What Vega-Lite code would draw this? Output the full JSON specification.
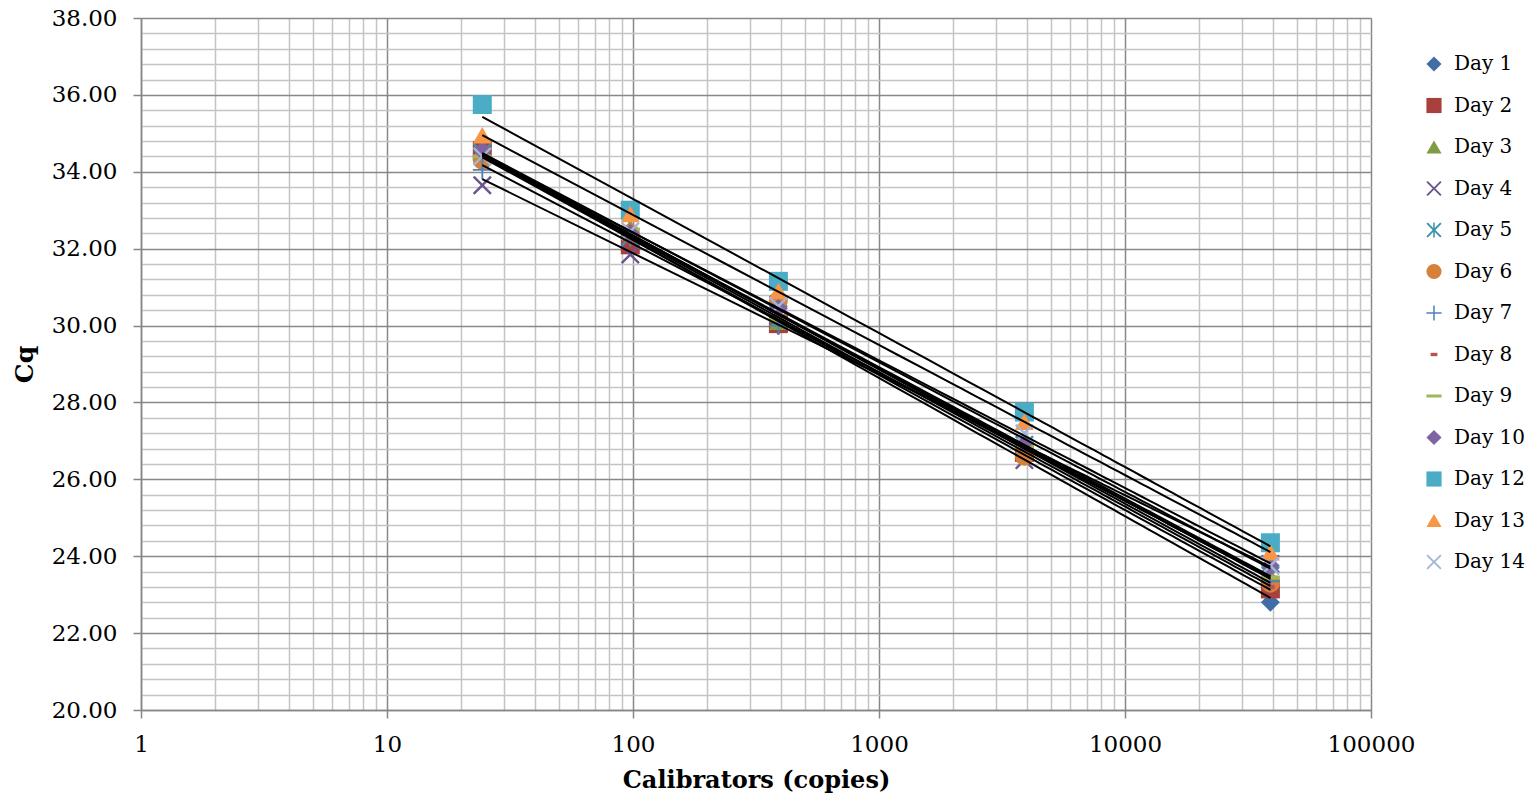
{
  "$schema": "https://vega.github.io/schema/vega-lite/v6.json",
  "width": 1230,
  "height": 692,
  "autosize": {"type": "none"},
  "padding": {"left": 141, "top": 18, "right": 161, "bottom": 86},
  "background": "white",
  "config": {
    "font": "DejaVu Serif",
    "view": {"stroke": null}
  },
  "data": {
    "values": [
      {"day": "Day 1", "copies": 24.4, "cq": 34.45},
      {"day": "Day 1", "copies": 97.5, "cq": 32.25},
      {"day": "Day 1", "copies": 390, "cq": 30.0},
      {"day": "Day 1", "copies": 3900, "cq": 26.75},
      {"day": "Day 1", "copies": 39000, "cq": 22.8},
      {"day": "Day 2", "copies": 24.4, "cq": 34.55},
      {"day": "Day 2", "copies": 97.5, "cq": 32.1},
      {"day": "Day 2", "copies": 390, "cq": 30.05},
      {"day": "Day 2", "copies": 3900, "cq": 26.7},
      {"day": "Day 2", "copies": 39000, "cq": 23.15},
      {"day": "Day 3", "copies": 24.4, "cq": 34.4},
      {"day": "Day 3", "copies": 97.5, "cq": 32.55},
      {"day": "Day 3", "copies": 390, "cq": 30.1},
      {"day": "Day 3", "copies": 3900, "cq": 26.85},
      {"day": "Day 3", "copies": 39000, "cq": 23.45},
      {"day": "Day 4", "copies": 24.4, "cq": 33.65},
      {"day": "Day 4", "copies": 97.5, "cq": 31.85},
      {"day": "Day 4", "copies": 390, "cq": 30.55},
      {"day": "Day 4", "copies": 3900, "cq": 26.5},
      {"day": "Day 4", "copies": 39000, "cq": 23.8},
      {"day": "Day 5", "copies": 24.4, "cq": 34.5},
      {"day": "Day 5", "copies": 97.5, "cq": 32.3},
      {"day": "Day 5", "copies": 390, "cq": 30.3},
      {"day": "Day 5", "copies": 3900, "cq": 26.9},
      {"day": "Day 5", "copies": 39000, "cq": 23.5},
      {"day": "Day 6", "copies": 24.4, "cq": 34.3},
      {"day": "Day 6", "copies": 97.5, "cq": 32.4},
      {"day": "Day 6", "copies": 390, "cq": 30.65},
      {"day": "Day 6", "copies": 3900, "cq": 26.6},
      {"day": "Day 6", "copies": 39000, "cq": 23.3},
      {"day": "Day 7", "copies": 24.4, "cq": 34.05},
      {"day": "Day 7", "copies": 97.5, "cq": 32.35},
      {"day": "Day 7", "copies": 390, "cq": 30.0},
      {"day": "Day 7", "copies": 3900, "cq": 27.0},
      {"day": "Day 7", "copies": 39000, "cq": 23.35},
      {"day": "Day 8", "copies": 24.4, "cq": 34.5},
      {"day": "Day 8", "copies": 97.5, "cq": 32.2},
      {"day": "Day 8", "copies": 390, "cq": 30.2},
      {"day": "Day 8", "copies": 3900, "cq": 26.8},
      {"day": "Day 8", "copies": 39000, "cq": 23.2},
      {"day": "Day 9", "copies": 24.4, "cq": 34.4},
      {"day": "Day 9", "copies": 97.5, "cq": 32.5},
      {"day": "Day 9", "copies": 390, "cq": 30.15},
      {"day": "Day 9", "copies": 3900, "cq": 26.85},
      {"day": "Day 9", "copies": 39000, "cq": 23.45},
      {"day": "Day 10", "copies": 24.4, "cq": 34.55},
      {"day": "Day 10", "copies": 97.5, "cq": 32.4},
      {"day": "Day 10", "copies": 390, "cq": 30.45},
      {"day": "Day 10", "copies": 3900, "cq": 26.95},
      {"day": "Day 10", "copies": 39000, "cq": 23.75},
      {"day": "Day 12", "copies": 24.4, "cq": 35.75},
      {"day": "Day 12", "copies": 97.5, "cq": 33.0},
      {"day": "Day 12", "copies": 390, "cq": 31.15},
      {"day": "Day 12", "copies": 3900, "cq": 27.75},
      {"day": "Day 12", "copies": 39000, "cq": 24.35},
      {"day": "Day 13", "copies": 24.4, "cq": 34.95},
      {"day": "Day 13", "copies": 97.5, "cq": 32.9},
      {"day": "Day 13", "copies": 390, "cq": 30.9},
      {"day": "Day 13", "copies": 3900, "cq": 27.5},
      {"day": "Day 13", "copies": 39000, "cq": 24.1},
      {"day": "Day 14", "copies": 24.4, "cq": 34.4},
      {"day": "Day 14", "copies": 97.5, "cq": 32.45},
      {"day": "Day 14", "copies": 390, "cq": 30.5},
      {"day": "Day 14", "copies": 3900, "cq": 27.2},
      {"day": "Day 14", "copies": 39000, "cq": 23.75}
    ]
  },
  "encoding": {
    "x": {
      "field": "copies",
      "type": "quantitative",
      "scale": {"type": "log", "domain": [1, 100000], "nice": false},
      "axis": {
        "title": "Calibrators (copies)",
        "titleFont": "DejaVu Serif",
        "titleFontSize": 24,
        "titleFontWeight": "bold",
        "titleColor": "black",
        "titlePadding": 12,
        "values": [1,2,3,4,5,6,7,8,9,10,20,30,40,50,60,70,80,90,100,200,300,400,500,600,700,800,900,1000,2000,3000,4000,5000,6000,7000,8000,9000,10000,20000,30000,40000,50000,60000,70000,80000,90000,100000],
        "format": "d",
        "labelExpr": "(datum.value == 1 || datum.value == 10 || datum.value == 100 || datum.value == 1000 || datum.value == 10000 || datum.value == 100000) ? datum.label : ''",
        "labelOverlap": false,
        "labelFlush": false,
        "labelFont": "DejaVu Serif",
        "labelFontSize": 23,
        "labelColor": "black",
        "labelPadding": 15,
        "domainColor": "#868686",
        "domainWidth": 1.5,
        "tickSize": 8,
        "tickWidth": 1.5,
        "tickColor": "#868686",
        "tickOpacity": {"condition": {"test": "datum.value == 1 || datum.value == 10 || datum.value == 100 || datum.value == 1000 || datum.value == 10000 || datum.value == 100000", "value": 1}, "value": 0},
        "grid": true,
        "gridWidth": 1.5,
        "gridColor": {"condition": {"test": "datum.value == 1 || datum.value == 10 || datum.value == 100 || datum.value == 1000 || datum.value == 10000 || datum.value == 100000", "value": "#888888"}, "value": "#c4c4c4"}
      }
    },
    "y": {
      "field": "cq",
      "type": "quantitative",
      "scale": {"domain": [20, 38], "nice": false, "zero": false},
      "axis": {
        "title": "Cq",
        "titleFont": "DejaVu Serif",
        "titleFontSize": 25,
        "titleFontWeight": "bold",
        "titleColor": "black",
        "titlePadding": 14,
        "values": [20,20.4,20.8,21.2,21.6,22,22.4,22.8,23.2,23.6,24,24.4,24.8,25.2,25.6,26,26.4,26.8,27.2,27.6,28,28.4,28.8,29.2,29.6,30,30.4,30.8,31.2,31.6,32,32.4,32.8,33.2,33.6,34,34.4,34.8,35.2,35.6,36,36.4,36.8,37.2,37.6,38],
        "format": ".2f",
        "labelExpr": "datum.value % 2 == 0 ? datum.label : ''",
        "labelOverlap": false,
        "labelFlush": false,
        "labelFont": "DejaVu Serif",
        "labelFontSize": 23,
        "labelColor": "black",
        "labelPadding": 16,
        "domainColor": "#868686",
        "domainWidth": 1.5,
        "tickSize": 8,
        "tickWidth": 1.5,
        "tickColor": "#868686",
        "tickOpacity": {"condition": {"test": "datum.value % 2 == 0", "value": 1}, "value": 0},
        "grid": true,
        "gridWidth": 1.5,
        "gridColor": {"condition": {"test": "datum.value % 2 == 0", "value": "#888888"}, "value": "#c4c4c4"}
      }
    }
  },
  "layer": [
    {
      "mark": {"type": "point", "filled": true, "opacity": 1, "size": 361, "strokeWidth": 0},
      "encoding": {
        "color": {
          "field": "day",
          "type": "nominal",
          "scale": {
            "domain": ["Day 1","Day 2","Day 3","Day 4","Day 5","Day 6","Day 7","Day 8","Day 9","Day 10","Day 12","Day 13","Day 14"],
            "range": ["#3E6DA8","#A8403D","#7E9C45","#6B558F","#3A93AA","#D6813A","#4F81BD","#C0504D","#9BBB59","#8064A2","#4BACC6","#F79646","#A5B6D8"]
          },
          "legend": {
            "title": null,
            "orient": "none",
            "legendX": 1283,
            "legendY": 36,
            "padding": 0,
            "labelFont": "DejaVu Serif",
            "labelFontSize": 20,
            "labelColor": "black",
            "labelOffset": 10,
            "symbolSize": 230,
            "symbolStrokeWidth": 0,
            "rowPadding": 21.5
          }
        },
        "shape": {
          "field": "day",
          "type": "nominal",
          "scale": {
            "domain": ["Day 1","Day 2","Day 3","Day 4","Day 5","Day 6","Day 7","Day 8","Day 9","Day 10","Day 12","Day 13","Day 14"],
            "range": [
              "diamond",
              "square",
              "triangle-up",
              "M0,-0.18L0.82,-1L1,-0.82L0.18,0L1,0.82L0.82,1L0,0.18L-0.82,1L-1,0.82L-0.18,0L-1,-0.82L-0.82,-1Z",
              "M0,-0.18L0.82,-1L1,-0.82L0.18,0L1,0.82L0.82,1L0,0.18L-0.82,1L-1,0.82L-0.18,0L-1,-0.82L-0.82,-1Z M-0.1,-1L0.1,-1L0.1,1L-0.1,1Z",
              "circle",
              "M-0.1,-1L0.1,-1L0.1,-0.1L1,-0.1L1,0.1L0.1,0.1L0.1,1L-0.1,1L-0.1,0.1L-1,0.1L-1,-0.1L-0.1,-0.1Z",
              "M-0.45,-0.22L0.45,-0.22L0.45,0.22L-0.45,0.22Z",
              "M-1,-0.2L1,-0.2L1,0.2L-1,0.2Z",
              "diamond",
              "square",
              "triangle-up",
              "M0,-0.18L0.82,-1L1,-0.82L0.18,0L1,0.82L0.82,1L0,0.18L-0.82,1L-1,0.82L-0.18,0L-1,-0.82L-0.82,-1Z"
            ]
          }
        }
      }
    },
    {
      "transform": [
        {"regression": "cq", "on": "copies", "groupby": ["day"], "method": "log", "extent": [24.4, 39000]}
      ],
      "mark": {"type": "line", "color": "black", "strokeWidth": 2},
      "encoding": {
        "detail": {"field": "day", "type": "nominal"}
      }
    }
  ]
}
